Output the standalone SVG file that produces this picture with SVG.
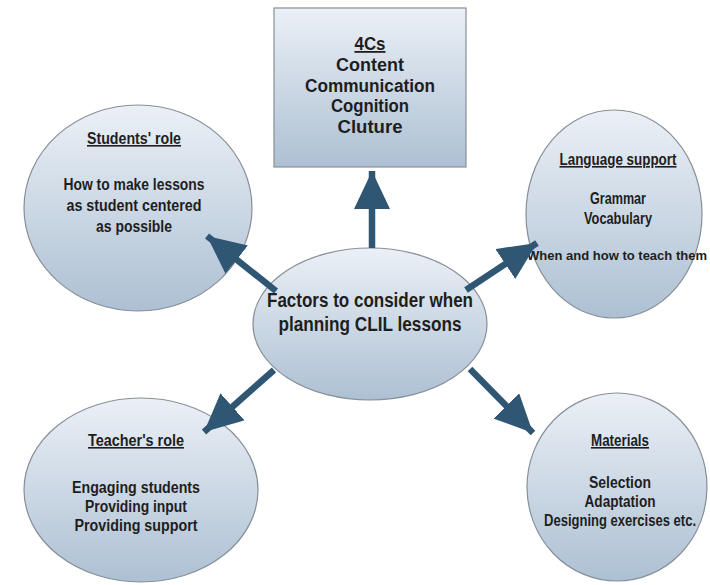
<svg xmlns="http://www.w3.org/2000/svg" width="710" height="585" viewBox="0 0 710 585">
  <defs>
    <linearGradient id="fillGrad" x1="0" y1="0" x2="0" y2="1">
      <stop offset="0" stop-color="#ebf0f6"/>
      <stop offset="1" stop-color="#adc0d3"/>
    </linearGradient>
    <marker id="head" viewBox="0 0 38 36" refX="38" refY="18" markerWidth="38" markerHeight="36" markerUnits="userSpaceOnUse" orient="auto">
      <path d="M0,0 L38,18 L0,36 Z" fill="#2f5673"/>
    </marker>
    <style>
      .shape { fill: url(#fillGrad); stroke: #878f98; stroke-width: 1.2; }
      .t { font-family: "Liberation Sans", Arial, sans-serif; font-weight: bold; fill: #1e1e1e; text-anchor: middle; }
      .n { font-size: 16px; }
      .s { font-size: 13px; }
      .c { font-size: 20px; }
      .b { font-size: 18px; }
      .u { text-decoration: underline; }
      .conn { stroke: #2f5673; stroke-width: 6.5; fill: none; marker-end: url(#head); }
    </style>
  </defs>
  <rect width="710" height="585" fill="#ffffff"/>

  <g id="fourCs">
    <rect class="shape" x="274" y="8" width="192" height="159"/>
    <text class="t b u" x="370" y="50" textLength="31" lengthAdjust="spacingAndGlyphs">4Cs</text>
    <text class="t b" x="370" y="71" textLength="68" lengthAdjust="spacingAndGlyphs">Content</text>
    <text class="t b" x="370" y="92" textLength="130" lengthAdjust="spacingAndGlyphs">Communication</text>
    <text class="t b" x="370" y="112" textLength="78" lengthAdjust="spacingAndGlyphs">Cognition</text>
    <text class="t b" x="370" y="133" textLength="65" lengthAdjust="spacingAndGlyphs">Cluture</text>
  </g>

  <g id="studentsRole">
    <ellipse class="shape" cx="138" cy="208" rx="114" ry="103"/>
    <text class="t n u" x="134" y="144" textLength="94" lengthAdjust="spacingAndGlyphs">Students' role</text>
    <text class="t n" x="134" y="190" textLength="141" lengthAdjust="spacingAndGlyphs">How to make lessons</text>
    <text class="t n" x="134" y="211" textLength="135" lengthAdjust="spacingAndGlyphs">as student centered</text>
    <text class="t n" x="134" y="232" textLength="76" lengthAdjust="spacingAndGlyphs">as possible</text>
  </g>

  <g id="languageSupport">
    <ellipse class="shape" cx="614" cy="214" rx="88" ry="104"/>
    <text class="t n u" x="618" y="165" textLength="117" lengthAdjust="spacingAndGlyphs">Language support</text>
    <text class="t n" x="618" y="204" textLength="56" lengthAdjust="spacingAndGlyphs">Grammar</text>
    <text class="t n" x="618" y="224" textLength="68" lengthAdjust="spacingAndGlyphs">Vocabulary</text>
    <text class="t s" x="617" y="260" textLength="180" lengthAdjust="spacingAndGlyphs">When and how to teach them</text>
  </g>

  <g id="centre">
    <ellipse class="shape" cx="370" cy="324" rx="117" ry="76"/>
    <text class="t c" x="370" y="307" textLength="206" lengthAdjust="spacingAndGlyphs">Factors to consider when</text>
    <text class="t c" x="370" y="331" textLength="183" lengthAdjust="spacingAndGlyphs">planning CLIL lessons</text>
  </g>

  <g id="teachersRole">
    <ellipse class="shape" cx="141" cy="490" rx="117" ry="92"/>
    <text class="t n u" x="136" y="446" textLength="96" lengthAdjust="spacingAndGlyphs">Teacher's role</text>
    <text class="t n" x="136" y="493" textLength="128" lengthAdjust="spacingAndGlyphs">Engaging students</text>
    <text class="t n" x="136" y="512" textLength="102" lengthAdjust="spacingAndGlyphs">Providing input</text>
    <text class="t n" x="136" y="531" textLength="123" lengthAdjust="spacingAndGlyphs">Providing support</text>
  </g>

  <g id="materials">
    <ellipse class="shape" cx="617" cy="487" rx="90" ry="94"/>
    <text class="t n u" x="620" y="446" textLength="58" lengthAdjust="spacingAndGlyphs">Materials</text>
    <text class="t n" x="620" y="488" textLength="62" lengthAdjust="spacingAndGlyphs">Selection</text>
    <text class="t n" x="620" y="507" textLength="71" lengthAdjust="spacingAndGlyphs">Adaptation</text>
    <text class="t n" x="620" y="526" textLength="152" lengthAdjust="spacingAndGlyphs">Designing exercises etc.</text>
  </g>

  <g id="connectors">
    <line class="conn" x1="372" y1="248" x2="372" y2="171"/>
    <line class="conn" x1="276" y1="291" x2="207" y2="236"/>
    <line class="conn" x1="466" y1="290" x2="537" y2="243"/>
    <line class="conn" x1="274" y1="370" x2="204" y2="432"/>
    <line class="conn" x1="470" y1="369" x2="533" y2="433"/>
  </g>
</svg>
